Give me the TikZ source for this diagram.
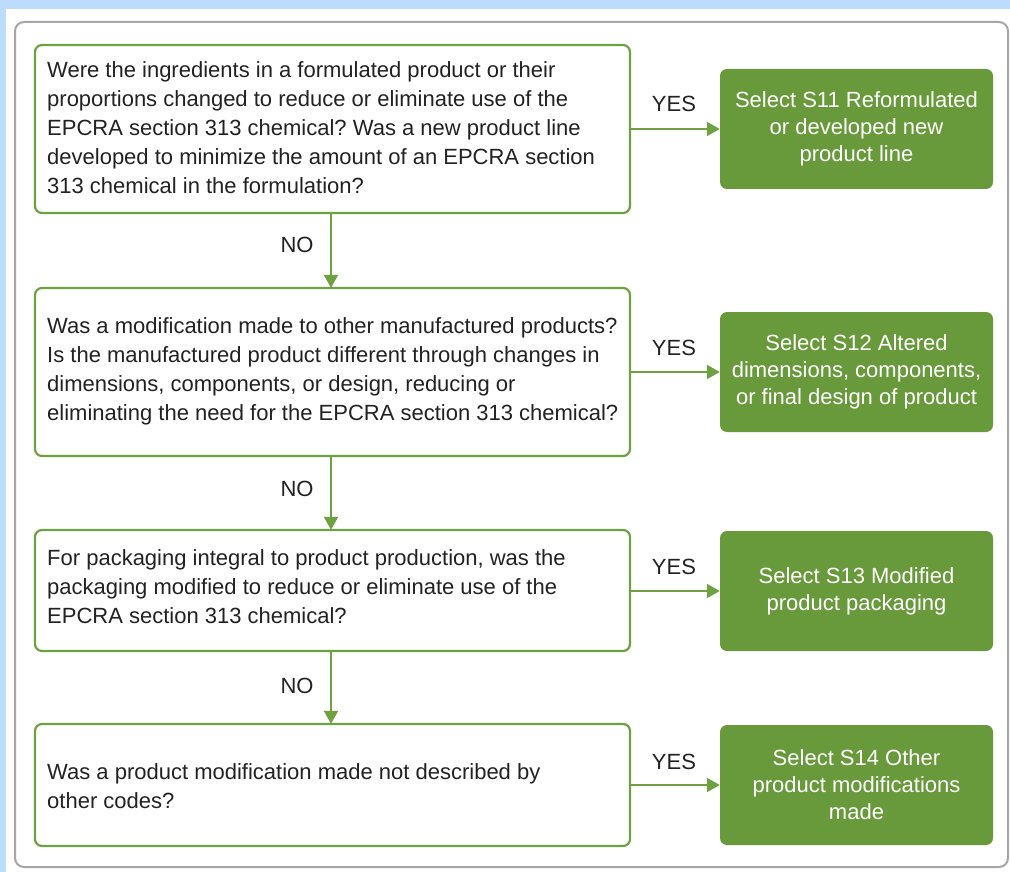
\documentclass[tikz,border=0pt]{standalone}
\usepackage{fontspec}
\setmainfont{Liberation Sans}
\frenchspacing
\usetikzlibrary{arrows.meta}
\definecolor{bgblue}{HTML}{BBDCFC}
\definecolor{gfill}{HTML}{68993B}
\definecolor{gline}{HTML}{6FA142}
\definecolor{txt}{HTML}{222222}
\tikzset{
  qbox/.style={draw=gline, line width=2.2pt, rounded corners=7pt, fill=white},
  qtext/.style={text=txt, anchor=north west, align=left, inner sep=0pt,
    font=\fontsize{22}{29}\selectfont},
  abox/.style={fill=gfill, rounded corners=7pt, text=white, align=center,
    font=\fontsize{22}{27}\selectfont, inner sep=0pt},
  arr/.style={draw=gline, line width=2.2pt, -{Triangle[length=13pt,width=14pt]}},
  lbl/.style={text=txt, font=\fontsize{22}{25}\selectfont, inner sep=0pt},
}
\begin{document}
\begin{tikzpicture}[x=1pt,y=-1pt]
\useasboundingbox (0,0) rectangle (1010,872);
\fill[bgblue] (0,0) rectangle (1010,872);
\fill[white] (6,9) rectangle (1010,872);
\draw[gray!70, line width=2pt, rounded corners=9pt] (15,22) rectangle (1008,867);
% question boxes
\path[qbox] (35,45) rectangle (630,213);
\node (q1) [minimum width=595pt, minimum height=168pt, inner sep=0pt] at (332.5,129) {};
\node[qtext] (t1) at (47,61) {Were the ingredients in a formulated product or their\\proportions changed to reduce or eliminate use of the\\EPCRA section 313 chemical? Was a new product line\\developed to minimize the amount of an EPCRA section\\313 chemical in the formulation?};
\path[qbox] (35,288) rectangle (630,456);
\node (q2) [minimum width=595pt, minimum height=168pt, inner sep=0pt] at (332.5,372) {};
\node[qtext] (t2) at (47,317) {Was a modification made to other manufactured products?\\Is the manufactured product different through changes in\\dimensions, components, or design, reducing or\\eliminating the need for the EPCRA section 313 chemical?};
\path[qbox] (35,530) rectangle (630,651);
\node (q3) [minimum width=595pt, minimum height=121pt, inner sep=0pt] at (332.5,590.5) {};
\node[qtext] (t3) at (47,549) {For packaging integral to product production, was the\\packaging modified to reduce or eliminate use of the\\EPCRA section 313 chemical?};
\path[qbox] (35,724) rectangle (630,846);
\node (q4) [minimum width=595pt, minimum height=122pt, inner sep=0pt] at (332.5,785) {};
\node[qtext] (t4) at (47,763) {Was a product modification made not described by\\other codes?};
% answer boxes
\node[abox, minimum width=273pt, minimum height=120pt] (a1) at (856.5,129) {Select S11 Reformulated\\or developed new\\product line};
\node[abox, minimum width=273pt, minimum height=120pt] (a2) at (856.5,372) {Select S12 Altered\\dimensions, components,\\or final design of product};
\node[abox, minimum width=273pt, minimum height=120pt] (a3) at (856.5,591) {Select S13 Modified\\product packaging};
\node[abox, minimum width=273pt, minimum height=120pt] (a4) at (856.5,785) {Select S14 Other\\product modifications\\made};
% YES arrows
\draw[arr] (q1.east) -- (a1.west);
\draw[arr] (q2.east) -- (a2.west);
\draw[arr] (q3.east |- a3.west) -- (a3.west);
\draw[arr] (q4.east |- a4.west) -- (a4.west);
% NO arrows
\draw[arr] (q1.south -| 331,0) -- (q2.north -| 331,0);
\draw[arr] (q2.south -| 331,0) -- (q3.north -| 331,0);
\draw[arr] (q3.south -| 331,0) -- (q4.north -| 331,0);
% labels
\node[lbl] (y1) at (674,104) {YES};
\node[lbl] (y2) at (674,348) {YES};
\node[lbl] (y3) at (674,567) {YES};
\node[lbl] (y4) at (674,762) {YES};
\node[lbl] (n1) at (297,245) {NO};
\node[lbl] (n2) at (297,489) {NO};
\node[lbl] (n3) at (297,686) {NO};
\end{tikzpicture}
\end{document}
